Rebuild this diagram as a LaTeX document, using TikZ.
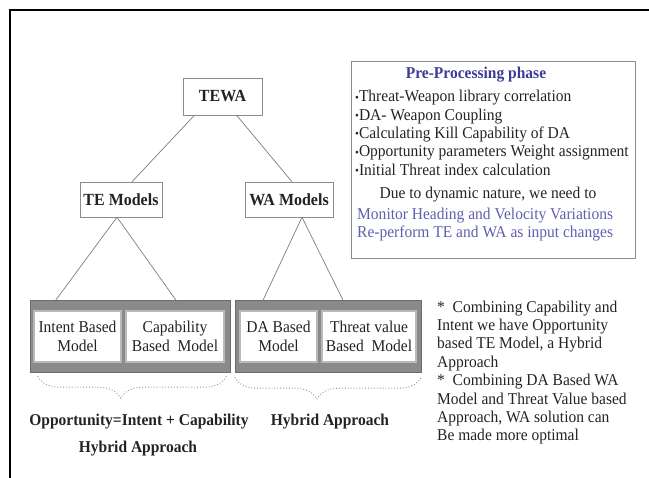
\documentclass[tikz,border=0pt]{standalone}
\usepackage{fontspec}
\setmainfont[FakeStretch=0.94]{Liberation Serif}
\usetikzlibrary{calc,decorations.pathreplacing}

\definecolor{linegray}{RGB}{125,125,125}
\definecolor{boxgray}{RGB}{140,140,140}
\definecolor{groupgray}{RGB}{138,138,138}
\definecolor{titleblue}{RGB}{60,60,150}
\definecolor{noteblue}{RGB}{95,95,175}
\definecolor{bracegray}{RGB}{135,145,175}
\definecolor{inkgray}{RGB}{35,35,35}

\newcommand{\bul}{\raisebox{0.1ex}{\scalebox{0.7}{\textbullet}}}

\tikzset{
	txt/.style={font=\fontsize{16.5}{18.4}\selectfont, inner sep=0pt, text=inkgray},
	boldtxt/.style={font=\bfseries\fontsize{16.5}{18.4}\selectfont, inner sep=0pt, text=inkgray},
	headbox/.style={draw=boxgray, fill=white, font=\bfseries\fontsize{17}{19}\selectfont, inner sep=0pt, text=inkgray},
	groupbox/.style={draw=gray!85!black, fill=groupgray, inner sep=0pt},
	modelbox/.style={draw=gray!55, line width=1.2pt, fill=white, align=center, inner sep=0pt, font=\fontsize{16.5}{18.6}\selectfont, text=inkgray},
	link/.style={draw=linegray, line width=0.7pt},
	dotbrace/.style={draw=bracegray, dotted, line width=0.9pt, decorate, decoration={brace, mirror, amplitude=22pt, aspect=0.44}}
}

\begin{document}
\begin{tikzpicture}[x=1pt,y=-1pt]
		\useasboundingbox (0,0) rectangle (649,478);
		
		% frame
		\draw[line width=2pt] (10,478) -- (10,10) -- (649,10);
		
		% tree
		\node[headbox, minimum width=79, minimum height=37] (tewa) at (222.5,96.5) {TEWA};
		\node[headbox, minimum width=82, minimum height=35] (te) at (121,199.5) {TE Models};
		\node[headbox, minimum width=88, minimum height=35] (wa) at (289,199.5) {WA Models};
		
		\node[groupbox, minimum width=200, minimum height=72] (grp1) at (130,336) {};
		\node[groupbox, minimum width=186, minimum height=72] (grp2) at (328,336) {};
		
		\node[modelbox, minimum width=87, minimum height=51] (intent) at (77.5,336.5) {Intent Based\\Model};
		\node[modelbox, minimum width=98, minimum height=51] (capab) at (175,336.5) {Capability\\Based~~Model};
		\node[modelbox, minimum width=77, minimum height=51] (dabased) at (278.5,336.5) {DA Based\\Model};
		\node[modelbox, minimum width=94, minimum height=51] (threat) at (369,336.5) {Threat value\\Based~~Model};
		
		\draw[link] ($(tewa.south)+(-28,0)$) -- ($(te.north)+(11,0)$);
		\draw[link] ($(tewa.south)+(14,0)$) -- ($(wa.north)+(3,0)$);
		\draw[link] ($(te.south)+(-4,0)$) -- ($(grp1.north west)+(24,3)$);
		\draw[link] ($(te.south)+(-4,0)$) -- ($(grp1.north west)+(148,3)$);
		\draw[link] ($(wa.south)+(13,0)$) -- ($(grp2.north west)+(27,3)$);
		\draw[link] ($(wa.south)+(13,0)$) -- ($(grp2.north west)+(108,0)$);
		
		% braces
		\draw[dotbrace] ($(grp1.south west)+(8,4)$) -- ($(grp1.south east)+(-4,4)$);
		\draw[dotbrace] ($(grp2.south west)+(0,5)$) -- ($(grp2.south east)+(0,5)$);
		
		\node[boldtxt, anchor=base] (opp) at (139,426) {Opportunity=Intent + Capability};
		\node[boldtxt, anchor=base] (hyb2) at (330,426) {Hybrid Approach};
		\node[boldtxt, anchor=base] (hyb1) at (138,453) {Hybrid Approach};
		
		% pre-processing box
		\node[draw=boxgray, line width=1pt, minimum width=284, minimum height=197] (pre) at (493,160.5) {};
		
		\node[boldtxt, text=titleblue, anchor=base] (pretitle) at (476,79) {Pre-Processing phase};
		\node[txt, anchor=base west] (pre1) at (355,102) {\bul Threat-Weapon library correlation};
		\node[txt, anchor=base west] (pre2) at (355,120.3) {\bul DA- Weapon Coupling};
		\node[txt, anchor=base west] (pre3) at (355,138.6) {\bul Calculating Kill Capability of DA};
		\node[txt, anchor=base west] (pre4) at (355,156.9) {\bul Opportunity parameters Weight assignment};
		\node[txt, anchor=base west] (pre5) at (355,175.2) {\bul Initial Threat index calculation};
		\node[txt, anchor=base] (due) at (488,199) {Due to dynamic nature, we need to};
		\node[txt, text=noteblue, anchor=base west] (mon) at (357,220) {Monitor Heading and Velocity Variations};
		\node[txt, text=noteblue, anchor=base west] (reperf) at (357,238) {Re-perform TE and WA as input changes};
		
		% notes
		\node[txt, align=left, anchor=north west] (notes) at (437,300.5) {*~~Combining Capability and\\Intent we have Opportunity\\based TE Model, a Hybrid\\Approach\\*~~Combining DA Based WA\\Model and Threat Value based\\Approach, WA solution can\\Be made more optimal};
	\end{tikzpicture}
\end{document}
